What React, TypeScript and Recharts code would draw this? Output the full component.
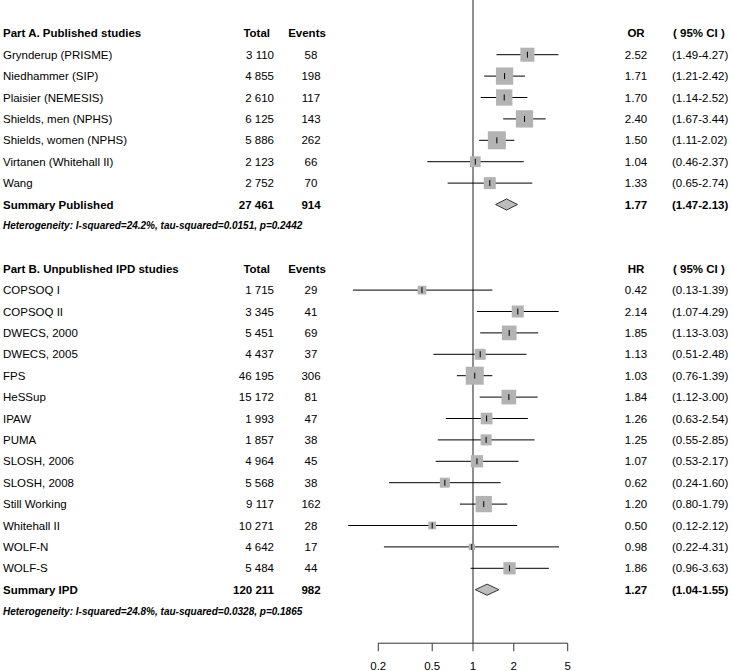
import { ScatterChart, Scatter, XAxis, YAxis, ZAxis, ErrorBar, ReferenceLine } from 'recharts';

// Part A - published studies
const namesA = [
  'Grynderup (PRISME)',
  'Niedhammer (SIP)',
  'Plaisier (NEMESIS)',
  'Shields, men (NPHS)',
  'Shields, women (NPHS)',
  'Virtanen (Whitehall II)',
  'Wang',
];
const totalsA = ['3 110', '4 855', '2 610', '6 125', '5 886', '2 123', '2 752'];
const eventsA = [58, 198, 117, 143, 262, 66, 70];
const estA = [2.52, 1.71, 1.7, 2.4, 1.5, 1.04, 1.33];
const loA = [1.49, 1.21, 1.14, 1.67, 1.11, 0.46, 0.65];
const hiA = [4.27, 2.42, 2.52, 3.44, 2.02, 2.37, 2.74];
const weightA = [19.6, 29.9, 26.6, 29.9, 32.4, 11.4, 14.4];
const summaryA = { total: '27 461', events: 914, est: 1.77, lo: 1.47, hi: 2.13 };
const hetA = 'Heterogeneity: I-squared=24.2%, tau-squared=0.0151, p=0.2442';

// Part B - unpublished IPD studies
const namesB = [
  'COPSOQ I',
  'COPSOQ II',
  'DWECS, 2000',
  'DWECS, 2005',
  'FPS',
  'HeSSup',
  'IPAW',
  'PUMA',
  'SLOSH, 2006',
  'SLOSH, 2008',
  'Still Working',
  'Whitehall II',
  'WOLF-N',
  'WOLF-S',
];
const totalsB = ['1 715', '3 345', '5 451', '4 437', '46 195', '15 172', '1 993', '1 857', '4 964', '5 568', '9 117', '10 271', '4 642', '5 484'];
const eventsB = [29, 41, 69, 37, 306, 81, 47, 38, 45, 38, 162, 28, 17, 44];
const estB = [0.42, 2.14, 1.85, 1.13, 1.03, 1.84, 1.26, 1.25, 1.07, 0.62, 1.2, 0.5, 0.98, 1.86];
const loB = [0.13, 1.07, 1.13, 0.51, 0.76, 1.12, 0.63, 0.55, 0.53, 0.24, 0.8, 0.12, 0.22, 0.96];
const hiB = [1.39, 4.29, 3.03, 2.48, 1.39, 3.0, 2.54, 2.85, 2.17, 1.6, 1.79, 2.12, 4.31, 3.63];
const weightB = [7.6, 14.4, 21.6, 12.1, 32.4, 21.6, 13.7, 12.1, 15.1, 10.0, 26.6, 5.9, 4.0, 15.1];
const summaryB = { total: '120 211', events: 982, est: 1.27, lo: 1.04, hi: 1.55 };
const hetB = 'Heterogeneity: I-squared=24.8%, tau-squared=0.0328, p=0.1865';

const xTicks = [0.2, 0.5, 1, 2, 5];

// row layout
const ROW_H = 21.4;
const FIRST_ROW_Y = 33.3;
const headerRowA = 0;
const firstRowA = 1;
const summaryRowA = firstRowA + namesA.length;
const headerRowB = summaryRowA + 3;
const firstRowB = headerRowB + 1;
const summaryRowB = firstRowB + namesB.length;
const lastRow = summaryRowB + 2.5;

const rowY = (r: number) => FIRST_ROW_Y + ROW_H * r;

const studyPoints = [
  ...namesA.map((_, i) => ({
    x: estA[i],
    y: firstRowA + i,
    w: weightA[i],
    err: [estA[i] - loA[i], hiA[i] - estA[i]],
  })),
  ...namesB.map((_, i) => ({
    x: estB[i],
    y: firstRowB + i,
    w: weightB[i],
    err: [estB[i] - loB[i], hiB[i] - estB[i]],
  })),
];

const DIAMOND_H = 0.26;
const diamond = (s: { est: number; lo: number; hi: number }, row: number) => [
  { x: s.lo, y: row },
  { x: s.est, y: row - DIAMOND_H },
  { x: s.hi, y: row },
  { x: s.est, y: row + DIAMOND_H },
  { x: s.lo, y: row },
];

const FONT = '"Liberation Sans", Arial, Helvetica, sans-serif';
const FS = 11.5;

const Square = (props: any) => {
  const { cx, cy, width } = props;
  if (cx == null || cy == null) return <g />;
  const s = width || 0;
  return <rect x={cx - s / 2} y={cy - s / 2} width={s} height={s} fill="#b3b3b3" />;
};

const Tick = (props: any) => {
  const { cx, cy } = props;
  if (cx == null || cy == null) return <g />;
  return <line x1={cx} x2={cx} y1={cy - 3} y2={cy + 3} stroke="#000" strokeWidth={1} />;
};

const Empty = () => <g />;

function TextRow({ row, cells, bold }: { row: number; cells: string[]; bold?: boolean }) {
  const y = rowY(row) + 4;
  const fw = bold ? 'bold' : 'normal';
  return (
    <g fontWeight={fw}>
      <text x={3} y={y}>{cells[0]}</text>
      <text x={274} y={y} textAnchor="end">{cells[1]}</text>
      <text x={311} y={y} textAnchor="middle">{cells[2]}</text>
      <text x={636} y={y} textAnchor="middle">{cells[3]}</text>
      <text x={672} y={y}>{cells[4]}</text>
    </g>
  );
}

function HeaderRow({ row, title, measure }: { row: number; title: string; measure: string }) {
  const y = rowY(row) + 4;
  return (
    <g fontWeight="bold">
      <text x={3} y={y}>{title}</text>
      <text x={270} y={y} textAnchor="end">Total</text>
      <text x={307} y={y} textAnchor="middle">Events</text>
      <text x={636} y={y} textAnchor="middle">{measure}</text>
      <text x={673} y={y}>( 95% CI )</text>
    </g>
  );
}

const ci = (lo: number, hi: number) => `(${lo.toFixed(2)}-${hi.toFixed(2)})`;

export default function App() {
  return (
    <div style={{ position: 'absolute', left: 0, top: 0, width: 732, height: 671, background: '#fff' }}>
      <ScatterChart width={732} height={671} margin={{ top: 0, right: 123.5, bottom: 0, left: 337.5 }}>
        <XAxis
          type="number"
          dataKey="x"
          scale="log"
          domain={[0.1, 10]}
          allowDataOverflow
          ticks={xTicks}
          tickFormatter={(v: number) => String(v)}
          axisLine={false}
          tickLine={{ stroke: '#333' }}
          tickSize={8}
          tickMargin={11}
          height={27.8}
          tick={{ fill: '#000', fontSize: FS, fontFamily: FONT }}
          interval={0}
        />
        <YAxis type="number" dataKey="y" domain={[-1.556, lastRow]} reversed hide allowDataOverflow />
        <ZAxis type="number" dataKey="w" domain={[0, 40]} range={[0, 314.16]} />
        <ReferenceLine
          segment={[{ x: 1, y: -1.556 }, { x: 1, y: lastRow }]}
          stroke="#444"
          strokeWidth={1.2}
          ifOverflow="visible"
        />
        <ReferenceLine
          segment={[{ x: xTicks[0], y: lastRow }, { x: xTicks[xTicks.length - 1], y: lastRow }]}
          stroke="#333"
          strokeWidth={1}
          ifOverflow="visible"
        />
        <Scatter data={studyPoints} shape={Square} isAnimationActive={false} />
        <Scatter data={studyPoints} shape={Tick} isAnimationActive={false}>
          <ErrorBar dataKey="err" direction="x" width={0} stroke="#000" strokeWidth={1} isAnimationActive={false} />
        </Scatter>
        <Scatter
          data={diamond(summaryA, summaryRowA)}
          shape={Empty}
          line={{ fill: '#bdbdbd', stroke: '#333', strokeWidth: 1 }}
          lineType="joint"
          lineJointType="linear"
          isAnimationActive={false}
        />
        <Scatter
          data={diamond(summaryB, summaryRowB)}
          shape={Empty}
          line={{ fill: '#bdbdbd', stroke: '#333', strokeWidth: 1 }}
          lineType="joint"
          lineJointType="linear"
          isAnimationActive={false}
        />
      </ScatterChart>
      <svg
        width={732}
        height={671}
        style={{ position: 'absolute', left: 0, top: 0, pointerEvents: 'none' }}
        fontFamily={FONT}
        fontSize={FS}
        fill="#000"
      >
        <HeaderRow row={headerRowA} title="Part A. Published studies" measure="OR" />
        {namesA.map((n, i) => (
          <TextRow
            key={n}
            row={firstRowA + i}
            cells={[n, totalsA[i], String(eventsA[i]), estA[i].toFixed(2), ci(loA[i], hiA[i])]}
          />
        ))}
        <TextRow
          row={summaryRowA}
          bold
          cells={['Summary Published', summaryA.total, String(summaryA.events), summaryA.est.toFixed(2), ci(summaryA.lo, summaryA.hi)]}
        />
        <text x={3} y={rowY(summaryRowA + 1) + 3.5} fontSize={10} fontWeight="bold" fontStyle="italic">
          {hetA}
        </text>

        <HeaderRow row={headerRowB} title="Part B. Unpublished IPD studies" measure="HR" />
        {namesB.map((n, i) => (
          <TextRow
            key={n}
            row={firstRowB + i}
            cells={[n, totalsB[i], String(eventsB[i]), estB[i].toFixed(2), ci(loB[i], hiB[i])]}
          />
        ))}
        <TextRow
          row={summaryRowB}
          bold
          cells={['Summary IPD', summaryB.total, String(summaryB.events), summaryB.est.toFixed(2), ci(summaryB.lo, summaryB.hi)]}
        />
        <text x={3} y={rowY(summaryRowB + 1) + 3.5} fontSize={10} fontWeight="bold" fontStyle="italic">
          {hetB}
        </text>
      </svg>
    </div>
  );
}
